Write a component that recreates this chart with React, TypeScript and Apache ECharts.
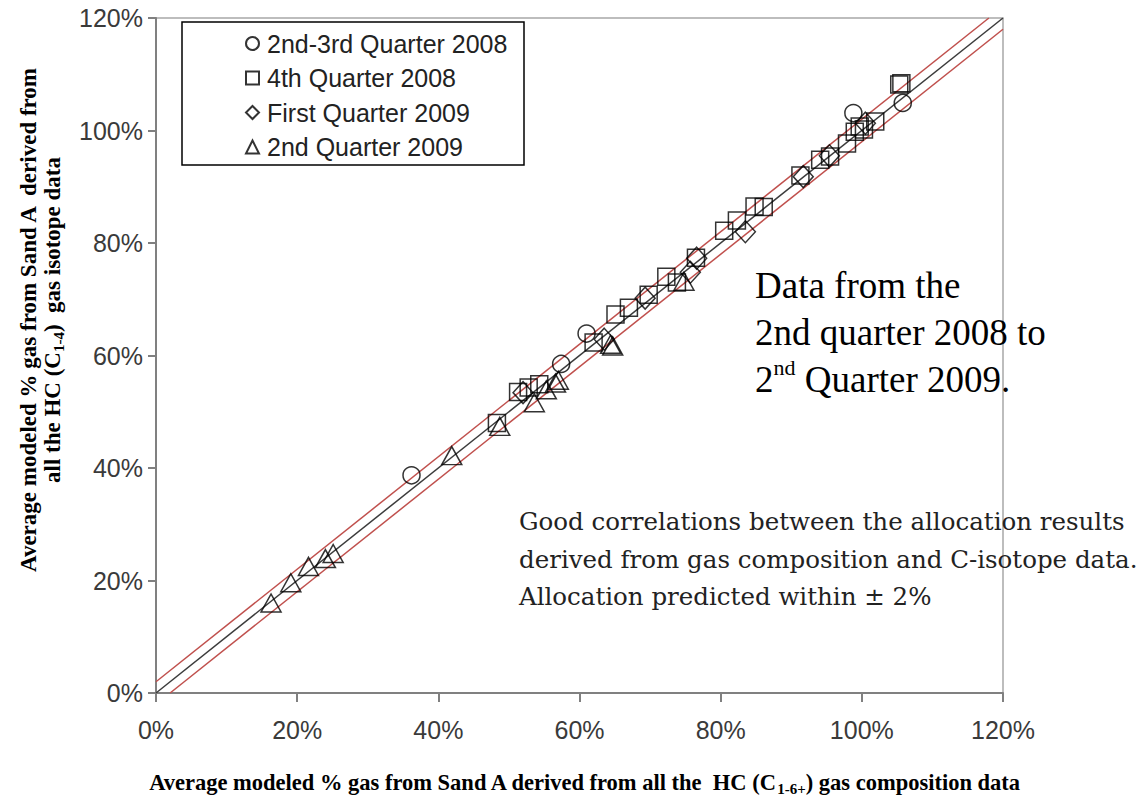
import React, { useEffect, useRef } from 'react';
import * as echarts from 'echarts';

const axisTicks = [0, 20, 40, 60, 80, 100, 120];

const seriesNames = ['2nd-3rd Quarter 2008', '4th Quarter 2008', 'First Quarter 2009', '2nd Quarter 2009'];

const q2q3_2008 = [
  [36.2, 38.7], [57.4, 58.5], [61.0, 63.9], [98.8, 103.1], [105.8, 104.9],
];

const q4_2008 = [
  [48.3, 48.0], [51.3, 53.5], [52.8, 54.3], [54.3, 54.9], [62.0, 62.3], [65.1, 67.3],
  [67.0, 68.5], [69.8, 70.8], [72.3, 74.0], [73.8, 73.0], [76.5, 77.4], [80.5, 82.2],
  [82.3, 84.0], [84.8, 86.5], [86.1, 86.4], [91.3, 92.0], [94.1, 94.8], [95.5, 95.4],
  [97.9, 97.7], [99.0, 99.8], [99.7, 100.7], [100.3, 100.2], [101.9, 101.6],
  [105.3, 108.2], [105.6, 108.4],
];

const q1_2009 = [
  [52.0, 53.4], [63.5, 62.9], [69.3, 70.2], [75.7, 74.8], [76.6, 77.3], [83.5, 82.0],
  [91.7, 91.8], [95.4, 95.5], [100.5, 101.3],
];

const q2_2009 = [
  [16.3, 16.0], [19.1, 19.6], [21.6, 22.5], [24.0, 23.9], [25.1, 24.8], [41.9, 42.2],
  [48.7, 47.4], [53.6, 51.6], [55.3, 53.9], [56.6, 55.1], [57.0, 55.6], [64.4, 62.0],
  [64.7, 61.7], [74.8, 73.2],
];

const oneToOne = [[0, 0], [120, 120]];
const upperBand = [[0, 2], [118, 120]];
const lowerBand = [[2, 0], [120, 118]];

const symbols = ['circle', 'rect', 'diamond', 'triangle'];
const symbolSizes: any[] = [17, 17, [20, 22], [20, 18]];
const pointSets = [q2q3_2008, q4_2008, q1_2009, q2_2009];

export default function App() {
  const ref = useRef<HTMLDivElement>(null);
  useEffect(() => {
    const chart = echarts.init(ref.current!, null, { renderer: 'svg' });
    const axisLineStyle = { color: '#808080', width: 2 };
    const labelStyle = { fontSize: 25, color: '#3a3a3a', fontFamily: 'Liberation Sans' };
    const serifBold = { fontFamily: 'Liberation Serif', fontWeight: 'bold' as const, fill: '#000' };
    const option: any = {
      animation: false,
      backgroundColor: '#fff',
      grid: { left: 156, right: 134, top: 18, bottom: 105, show: true, borderColor: '#a8a8a8', borderWidth: 1.5 },
      xAxis: {
        type: 'value', min: axisTicks[0], max: axisTicks[axisTicks.length - 1], interval: 20,
        axisLine: { show: true, onZero: false, lineStyle: axisLineStyle },
        axisTick: { show: true, length: 9, lineStyle: axisLineStyle },
        splitLine: { show: false },
        axisLabel: { ...labelStyle, margin: 24, formatter: '{value}%' },
      },
      yAxis: {
        type: 'value', min: axisTicks[0], max: axisTicks[axisTicks.length - 1], interval: 20,
        axisLine: { show: true, onZero: false, lineStyle: axisLineStyle },
        axisTick: { show: true, length: 8, lineStyle: axisLineStyle },
        splitLine: { show: false },
        axisLabel: { ...labelStyle, margin: 13, formatter: '{value}%' },
      },
      legend: {
        data: seriesNames,
        orient: 'vertical',
        left: 240, top: 26,
        itemWidth: 13, itemHeight: 13, itemGap: 9.5,
        textStyle: { fontSize: 25, color: '#222', fontFamily: 'Liberation Sans', padding: [0, 0, 0, 3] },
      },
      series: [
        { type: 'line', data: oneToOne, showSymbol: false, symbol: 'none', silent: true, lineStyle: { color: '#3c3c3c', width: 1.5 }, z: 1 },
        { type: 'line', data: upperBand, showSymbol: false, symbol: 'none', silent: true, lineStyle: { color: '#c0504d', width: 1.5 }, z: 1 },
        { type: 'line', data: lowerBand, showSymbol: false, symbol: 'none', silent: true, lineStyle: { color: '#c0504d', width: 1.5 }, z: 1 },
        ...seriesNames.map((name, i) => ({
          name, type: 'scatter', data: pointSets[i], symbol: symbols[i], symbolSize: symbolSizes[i],
          itemStyle: { color: 'rgba(255,255,255,0)', borderColor: '#000', borderWidth: 1.5 },
          z: 3,
        })),
      ],
      graphic: [
        { type: 'rect', shape: { x: 182, y: 22, width: 342, height: 143 }, style: { fill: 'none', stroke: '#000', lineWidth: 1.5 }, z: 10 },
        {
          type: 'text', x: 28, y: 320, rotation: Math.PI / 2,
          style: { ...serifBold, text: 'Average modeled % gas from Sand A  derived from', fontSize: 23, align: 'center', verticalAlign: 'middle', textAlign: 'center', textVerticalAlign: 'middle' },
        },
        {
          type: 'text', x: 52, y: 320, rotation: Math.PI / 2,
          style: {
            ...serifBold, align: 'center', verticalAlign: 'middle', textAlign: 'center', textVerticalAlign: 'middle',
            text: '{m|all the HC (C}{s|1-4}{m|)  gas isotope data}',
            rich: {
              m: { fontSize: 23, fontFamily: 'Liberation Serif', fontWeight: 'bold', lineHeight: 28 },
              s: { fontSize: 15, fontFamily: 'Liberation Serif', fontWeight: 'bold', lineHeight: 15, verticalAlign: 'bottom' },
            },
          },
        },
        {
          type: 'text', x: 584, y: 782,
          style: {
            ...serifBold, align: 'center', verticalAlign: 'middle', textAlign: 'center', textVerticalAlign: 'middle',
            text: '{m|Average modeled % gas from Sand A derived from all the  HC (C}{s|1-6+}{m|) gas composition data}',
            rich: {
              m: { fontSize: 22.5, fontFamily: 'Liberation Serif', fontWeight: 'bold', lineHeight: 28 },
              s: { fontSize: 15, fontFamily: 'Liberation Serif', fontWeight: 'bold', lineHeight: 15, verticalAlign: 'bottom' },
            },
          },
        },
        {
          type: 'text', x: 755, y: 262,
          style: {
            fill: '#000', align: 'left', verticalAlign: 'top', textAlign: 'left', textVerticalAlign: 'top',
            text: '{m|Data from the}\n{m|2nd quarter 2008 to}\n{m|2}{p|nd}{m| Quarter 2009.}',
            rich: {
              m: { fontSize: 37, fontFamily: 'Liberation Serif', lineHeight: 47, fill: '#000' },
              p: { fontSize: 22, fontFamily: 'Liberation Serif', lineHeight: 30, verticalAlign: 'top', fill: '#000' },
            },
          },
        },
        {
          type: 'text', x: 519, y: 503,
          style: {
            fill: '#222', align: 'left', verticalAlign: 'top', textAlign: 'left', textVerticalAlign: 'top',
            text: 'Good correlations between the allocation results\nderived from gas composition and C-isotope data.\nAllocation predicted within \u00b1 2%',
            fontSize: 24.5, fontFamily: 'DejaVu Serif', lineHeight: 37.5,
          },
        },
      ],
    };
    chart.setOption(option);
    return () => chart.dispose();
  }, []);
  return <div ref={ref} style={{ position: 'absolute', left: 0, top: 0, width: 1137, height: 798, background: '#fff' }} />;
}
